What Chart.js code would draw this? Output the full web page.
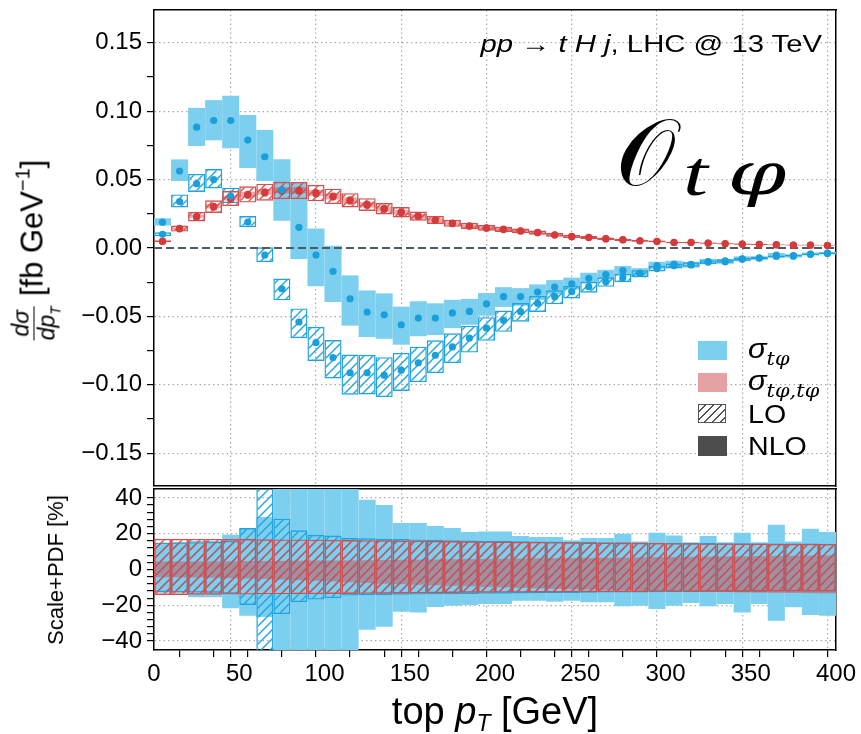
<!DOCTYPE html>
<html><head><meta charset="utf-8">
<script src="https://cdn.jsdelivr.net/npm/chart.js@4.4.1/dist/chart.umd.min.js"></script>
<style>
html,body{margin:0;padding:0;background:#fff;}
body{width:861px;height:734px;position:relative;overflow:hidden;font-family:"Liberation Sans",Arial,Helvetica,sans-serif;color:#000;}
canvas{position:absolute;left:0;}
#main{top:0;}
#ratio{top:488px;}
.abs{position:absolute;white-space:nowrap;}
.rot{transform:translate(-50%,-50%) rotate(-90deg);transform-origin:50% 50%;}
.m{font-style:italic;}
.frac{display:inline-block;vertical-align:middle;text-align:center;font-size:23px;line-height:23px;margin-right:10px;}
.frac .num{display:block;border-bottom:1.5px solid #000;padding:0 1px 1px 1px;}
.frac .den{display:block;padding-top:1px;}
sub,sup{line-height:0;}
.patch{position:absolute;width:29px;height:19px;}
.legtxt{position:absolute;white-space:nowrap;font-size:26px;line-height:26px;transform:scaleX(1.1);transform-origin:0 50%;}
</style></head><body>
<canvas id="main" width="861" height="490"></canvas>
<canvas id="ratio" width="861" height="246"></canvas>

<div class="abs rot" style="left:34px;top:250px;font-size:31px;line-height:34px;"><span class="frac"><span class="num m">dσ</span><span class="den m">dp<sub style="font-size:14px;">T</sub></span></span>[fb GeV<sup style="font-size:20px;vertical-align:13px;">−1</sup>]</div>
<div class="abs rot" style="left:56px;top:570px;font-size:22px;line-height:24px;">Scale+PDF [%]</div>
<div class="abs" style="left:495px;top:711px;transform:translate(-50%,-50%);font-size:38px;line-height:40px;">top <span class="m">p</span><sub class="m" style="font-size:23px;vertical-align:-7px;">T</sub> [GeV]</div>

<div class="abs" style="right:39px;top:30px;font-size:24px;line-height:28px;transform:scaleX(1.22);transform-origin:100% 50%;"><span class="m">pp</span> → <span class="m">t H j</span>, LHC @ 13 TeV</div>
<div class="abs" style="left:616px;top:93px;font-family:'DejaVu Serif',serif;font-size:94px;line-height:120px;font-weight:normal;">𝒪<span style="display:inline-block;font-family:'Liberation Serif','DejaVu Serif',serif;font-style:italic;font-size:64px;position:relative;top:10px;margin-left:8px;letter-spacing:14px;transform:scaleX(1.4);transform-origin:0 50%;">t<span style="font-family:'DejaVu Serif',serif;font-size:60px;letter-spacing:0;">φ</span></span></div>

<div class="patch" style="left:698px;top:341px;background:#7dcfef;"></div>
<div class="patch" style="left:698px;top:373px;background:#e6a2a2;"></div>
<div class="patch" style="left:698px;top:404px;width:26px;height:17px;border:1.6px solid #555;background:repeating-linear-gradient(135deg,#fff 0 4px,#555 4px 5.6px);"></div>
<div class="patch" style="left:698px;top:436px;height:20px;background:#4d4d4d;"></div>
<div class="legtxt" style="left:748px;top:336px;"><span class="m" style="font-size:28px;">σ</span><sub class="m" style="font-size:19px;font-family:'DejaVu Serif',serif;vertical-align:-7px;">tφ</sub></div>
<div class="legtxt" style="left:748px;top:368px;"><span class="m" style="font-size:28px;">σ</span><sub class="m" style="font-size:19px;font-family:'DejaVu Serif',serif;vertical-align:-7px;">tφ,tφ</sub></div>
<div class="legtxt" style="left:748px;top:401px;">LO</div>
<div class="legtxt" style="left:748px;top:433px;">NLO</div>

<script>
// ---------------- data ----------------
const binCenters = [5,15,25,35,45,55,65,75,85,95,105,115,125,135,145,155,165,175,185,195,
                    205,215,225,235,245,255,265,275,285,295,305,315,325,335,345,355,365,375,385,395];
const xRange = [0, 400];
const xTickValues = [0,50,100,150,200,250,300,350,400];
const yMainRange = [-0.174, 0.174];
const yMainTickValues = [-0.15,-0.10,-0.05,0.00,0.05,0.10,0.15];
const yRatioRange = [-45, 45];
const yRatioTickValues = [-40,-20,0,20,40];

// sigma_tphi NLO (central values, fb/GeV) and scale+PDF band (%)
const blueNLO = [0.0189,0.0563,0.0883,0.0932,0.0932,0.0789,0.0667,0.0424,0.0151,-0.0051,
                 -0.0170,-0.0371,-0.0468,-0.0488,-0.0561,-0.0512,-0.0512,-0.0475,-0.0464,-0.0408,
                 -0.0355,-0.0355,-0.0322,-0.0286,-0.0262,-0.0221,-0.0195,-0.0166,-0.0185,-0.0129,
                 -0.0117,-0.0124,-0.0100,-0.0100,-0.0080,-0.0075,-0.0051,-0.0060,-0.0044,-0.0039];
const blueNLOUp = [15,15,16,16,19.4,23.2,29.4,53,218,447,
                   132,53,39,36,26,26,24.3,23.2,21,21.3,
                   21.3,18.7,18.1,18.1,16.3,17.6,17.6,20,15.7,20.6,
                   19,15.3,18.7,15.3,20.6,15.3,25,15.7,22.8,21];
const blueNLODn = [-13,-13,-15.5,-15.5,-21.7,-25.8,-26.5,-53,-153,-380,
                   -110,-46,-33.7,-32,-23.6,-24,-21,-20.2,-19.8,-19.3,
                   -19.3,-17.4,-17.4,-18,-17.4,-18.3,-18.3,-20.6,-20.2,-22.1,
                   -20.2,-18.7,-20.6,-19.3,-24,-19.3,-28.6,-21.1,-25.4,-25.8];

// sigma_tphi LO
const blueLO = [0.0100,0.0340,0.0470,0.0500,0.0380,0.0190,-0.0051,-0.0298,-0.0541,-0.0692,
                -0.0801,-0.0912,-0.0912,-0.0930,-0.0893,-0.0839,-0.0784,-0.0723,-0.0658,-0.0585,
                -0.0529,-0.0465,-0.0404,-0.0356,-0.0319,-0.0283,-0.0246,-0.0217,-0.0186,-0.0149,
                -0.0130,-0.0120,-0.0102,-0.0094,-0.0082,-0.0072,-0.0062,-0.0055,-0.0046,-0.0038];
const blueLOUp = [15.0,15.2,15.3,15.5,16.0,23.2,104,28.4,21.9,19.4,
                  19.0,17.6,17.4,17.2,17.0,16.8,16.6,16.4,16.2,16.0,
                  15.9,15.8,15.7,15.6,15.5,15.4,15.3,15.2,15.1,15.0,
                  14.9,14.8,14.8,14.7,14.7,14.6,14.6,14.5,14.5,14.4];
const blueLODn = [-12.7,-12.8,-12.9,-13.0,-13.5,-19.8,-110,-24.9,-18.3,-16.8,
                  -16.0,-14.6,-14.4,-14.2,-14.1,-14.0,-13.9,-13.8,-13.7,-13.6,
                  -13.5,-13.4,-13.3,-13.2,-13.1,-13.0,-12.9,-12.8,-12.8,-12.7,
                  -12.6,-12.6,-12.5,-12.5,-12.4,-12.4,-12.3,-12.3,-12.3,-12.3];

// sigma_tphi,tphi NLO
const redNLO = [0.0049,0.0143,0.0231,0.0304,0.0364,0.0393,0.0410,0.0424,0.0424,0.0405,
                0.0380,0.0352,0.0320,0.0289,0.0264,0.0235,0.0206,0.0182,0.0162,0.0148,
                0.0138,0.0126,0.0114,0.0097,0.0085,0.0078,0.0068,0.0061,0.0053,0.0049,
                0.0041,0.0041,0.0036,0.0032,0.0029,0.0027,0.0024,0.0022,0.0022,0.0019];
const redNLOUp = [4.5,4.5,4.5,4.6,4.6,4.7,4.7,4.8,4.9,5.0,
                  5.0,5.1,5.2,5.3,5.4,5.5,5.6,5.7,5.8,5.9,
                  6.0,6.1,6.2,6.3,6.4,6.5,6.6,6.7,6.8,6.9,
                  7.0,7.1,7.2,7.3,7.4,7.5,7.6,7.7,7.8,7.9];
const redNLODn = [-4.3,-4.4,-4.5,-4.6,-4.8,-5.0,-5.3,-5.6,-5.9,-6.3,
                  -6.7,-7.1,-7.5,-7.9,-8.2,-8.5,-8.8,-9.1,-9.4,-9.7,
                  -10.0,-10.3,-10.5,-10.8,-11.0,-11.2,-11.4,-11.6,-11.8,-12.0,
                  -12.2,-12.3,-12.5,-12.6,-12.8,-12.9,-13.0,-13.1,-13.2,-13.3];

// sigma_tphi,tphi LO
const redLO = [0.0048,0.0140,0.0226,0.0298,0.0356,0.0386,0.0402,0.0414,0.0414,0.0396,
               0.0372,0.0344,0.0313,0.0283,0.0258,0.0230,0.0202,0.0178,0.0159,0.0145,
               0.0135,0.0123,0.0111,0.0095,0.0083,0.0076,0.0066,0.0059,0.0052,0.0047,
               0.0040,0.0040,0.0035,0.0031,0.0028,0.0026,0.0023,0.0021,0.0021,0.0018];
const redLOUp = [17.2,17.2,17.1,17.1,17.0,17.0,16.9,16.8,16.8,16.7,
                 16.6,16.5,16.4,16.3,16.2,16.1,16.0,15.9,15.8,15.7,
                 15.6,15.5,15.4,15.3,15.2,15.1,15.0,14.9,14.9,14.8,
                 14.7,14.7,14.6,14.6,14.5,14.5,14.4,14.4,14.4,14.3];
const redLODn = [-14.2,-14.2,-14.1,-14.1,-14.0,-14.0,-13.9,-13.9,-13.8,-13.8,
                 -13.7,-13.7,-13.6,-13.5,-13.4,-13.3,-13.2,-13.1,-13.0,-13.0,
                 -12.9,-12.9,-12.8,-12.8,-12.7,-12.7,-12.6,-12.6,-12.6,-12.5,
                 -12.5,-12.5,-12.4,-12.4,-12.4,-12.3,-12.3,-12.3,-12.3,-12.3];

// ---------------- styling ----------------
const FONT = '"Liberation Sans", Arial, Helvetica, sans-serif';
const COL = {
  blueFill:'#7dcfef', blueLine:'#1ea5df', blueDot:'#1a9fda',
  redFill:'rgba(204,64,64,0.45)', redLine:'#d64e4e', redDot:'#d63b3b',
  grid:'#ababab', zero:'#4e5b62'
};
const mainCtx = document.getElementById('main').getContext('2d');
function hatch(color){
  const s = 9, c = document.createElement('canvas'); c.width = c.height = s;
  const g = c.getContext('2d'); g.strokeStyle = color; g.lineWidth = 1.4;
  g.beginPath();
  g.moveTo(0, s); g.lineTo(s, 0);
  g.moveTo(-s/2, s/2); g.lineTo(s/2, -s/2);
  g.moveTo(s/2, s*1.5); g.lineTo(s*1.5, s/2);
  g.stroke();
  return mainCtx.createPattern(c, 'repeat');
}
const blueHatch = hatch(COL.blueLine), redHatch = hatch(COL.redLine);

const near = (a,b)=>Math.abs(a-b)<1e-7;
const isMult = (v,m)=>near(v/m, Math.round(v/m));
const fmtMinus = s=>s.replace('-', '\u2212');
const tv = c=>(c && c.tick) ? c.tick.value : NaN;
const noPad = s=>{s.paddingTop=0; s.paddingBottom=0; s.paddingLeft=0; s.paddingRight=0;};

function mainBoxes(c, up, dn){ return binCenters.map((x,i)=>({x, y:[c[i]*(1+dn[i]/100), c[i]*(1+up[i]/100)]})); }
function ratioBoxes(up, dn){ return binCenters.map((x,i)=>({x, y:[dn[i], up[i]]})); }
function pts(c){ return binCenters.map((x,i)=>({x, y:c[i]})); }

const barBase = {type:'bar', grouped:false, barPercentage:1, categoryPercentage:1, borderSkipped:false, inflateAmount:0};
const tickFont = {family: FONT, size: 24};

function frameAxes(top, right, yr){
  return {
    xTop:{type:'linear', position:'top', min:xRange[0], max:xRange[1], z:2,
          afterFit:s=>{s.height=top; noPad(s);}, ticks:{display:false}, grid:{display:false},
          border:{display:true, color:'#000', width:1.5}},
    yRight:{type:'linear', position:'right', min:yr[0], max:yr[1], z:2,
          afterFit:s=>{s.width=right; noPad(s);}, ticks:{display:false}, grid:{display:false},
          border:{display:true, color:'#000', width:1.5}}
  };
}

// ---------------- main panel ----------------
new Chart(mainCtx, {
  data:{datasets:[
    {...barBase, label:'σtφ NLO', data:mainBoxes(blueNLO, blueNLOUp, blueNLODn), backgroundColor:COL.blueFill, borderWidth:0, order:6},
    {...barBase, label:'σtφ LO', data:mainBoxes(blueLO, blueLOUp, blueLODn), backgroundColor:blueHatch, borderColor:COL.blueLine, borderWidth:1.4, order:5},
    {...barBase, label:'σtφ,tφ NLO', data:mainBoxes(redNLO, redNLOUp, redNLODn), backgroundColor:COL.redFill, borderWidth:0, order:4},
    {...barBase, label:'σtφ,tφ LO', data:mainBoxes(redLO, redLOUp, redLODn), backgroundColor:redHatch, borderColor:COL.redLine, borderWidth:1.4, order:3},
    {type:'line', label:'zero', data:[{x:xRange[0], y:0},{x:xRange[1], y:0}], borderColor:COL.zero, borderWidth:2, borderDash:[8,4], pointRadius:0, order:2},
    {type:'scatter', label:'blue LO pts', data:pts(blueLO), backgroundColor:COL.blueDot, borderWidth:0, pointRadius:3.6, order:1},
    {type:'scatter', label:'blue NLO pts', data:pts(blueNLO), backgroundColor:COL.blueDot, borderWidth:0, pointRadius:3.6, order:1},
    {type:'scatter', label:'red LO pts', data:pts(redLO), backgroundColor:COL.redDot, borderWidth:0, pointRadius:3.6, order:1},
    {type:'scatter', label:'red NLO pts', data:pts(redNLO), backgroundColor:COL.redDot, borderWidth:0, pointRadius:3.6, order:1}
  ]},
  options:{
    responsive:false, animation:false, devicePixelRatio:1,
    layout:{padding:0},
    plugins:{legend:{display:false}, tooltip:{enabled:false}},
    scales:{
      x:{type:'linear', position:'bottom', min:xRange[0], max:xRange[1], offset:false, z:1,
         afterFit:s=>{s.height=2; noPad(s);},
         ticks:{stepSize:10, autoSkip:false, display:false},
         grid:{drawTicks:false, lineWidth:1.2, color:c=>xTickValues.some(v=>near(v,tv(c)))?COL.grid:'transparent'},
         border:{color:'#000', width:1.5, dash:[1.5,3]}},
      y:{type:'linear', position:'left', min:yMainRange[0], max:yMainRange[1], z:1,
         afterFit:s=>{s.width=154; noPad(s);},
         ticks:{stepSize:0.025, autoSkip:false, font:tickFont, color:'#000', padding:5,
                callback:v=>{const m=yMainTickValues.find(t=>near(t,v)); return m===undefined?'':fmtMinus(m.toFixed(2));}},
         grid:{lineWidth:1.2, tickLength:7, tickWidth:1.2,
               color:c=>(yMainTickValues.some(t=>near(t,tv(c))) && !near(tv(c),0))?COL.grid:'transparent',
               tickColor:c=>isMult(tv(c),0.025)?'#000':'transparent'},
         border:{color:'#000', width:1.5, dash:[1.5,3]}},
      ...frameAxes(10, 25, yMainRange)
    }
  }
});

// ---------------- ratio panel ----------------
new Chart(document.getElementById('ratio').getContext('2d'), {
  data:{datasets:[
    {...barBase, label:'σtφ NLO', data:ratioBoxes(blueNLOUp, blueNLODn), backgroundColor:COL.blueFill, borderWidth:0, order:6},
    {...barBase, label:'σtφ LO', data:ratioBoxes(blueLOUp, blueLODn), backgroundColor:blueHatch, borderColor:COL.blueLine, borderWidth:1.4, order:5},
    {...barBase, label:'σtφ,tφ NLO', data:ratioBoxes(redNLOUp, redNLODn), backgroundColor:COL.redFill, borderWidth:0, order:4},
    {...barBase, label:'σtφ,tφ LO', data:ratioBoxes(redLOUp, redLODn), backgroundColor:redHatch, borderColor:COL.redLine, borderWidth:1.4, order:3}
  ]},
  options:{
    responsive:false, animation:false, devicePixelRatio:1,
    layout:{padding:0},
    plugins:{legend:{display:false}, tooltip:{enabled:false}},
    scales:{
      x:{type:'linear', position:'bottom', min:xRange[0], max:xRange[1], offset:false, z:1,
         afterFit:s=>{s.height=84; noPad(s);},
         ticks:{stepSize:10, autoSkip:false, maxRotation:0, font:tickFont, color:'#000', padding:3,
                callback:v=>{const m=xTickValues.find(t=>near(t,v)); return m===undefined?'':String(m);}},
         grid:{lineWidth:1.2, tickLength:7, tickWidth:1.2,
               color:c=>xTickValues.some(v=>near(v,tv(c)))?COL.grid:'transparent',
               tickColor:c=>(isMult(tv(c),20)||isMult(tv(c),50))?'#000':'transparent'},
         border:{color:'#000', width:1.5, dash:[1.5,3]}},
      y:{type:'linear', position:'left', min:yRatioRange[0], max:yRatioRange[1], z:1,
         afterFit:s=>{s.width=154; noPad(s);},
         ticks:{stepSize:4, autoSkip:false, font:tickFont, color:'#000', padding:5,
                callback:v=>{const m=yRatioTickValues.find(t=>near(t,v)); return m===undefined?'':fmtMinus(String(m));}},
         grid:{lineWidth:1.2, tickLength:7, tickWidth:1.2,
               color:c=>yRatioTickValues.some(t=>near(t,tv(c)))?COL.grid:'transparent',
               tickColor:c=>isMult(tv(c),4)?'#000':'transparent'},
         border:{color:'#000', width:1.5, dash:[1.5,3]}},
      ...frameAxes(1, 25, yRatioRange)
    }
  }
});
</script>
</body></html>
